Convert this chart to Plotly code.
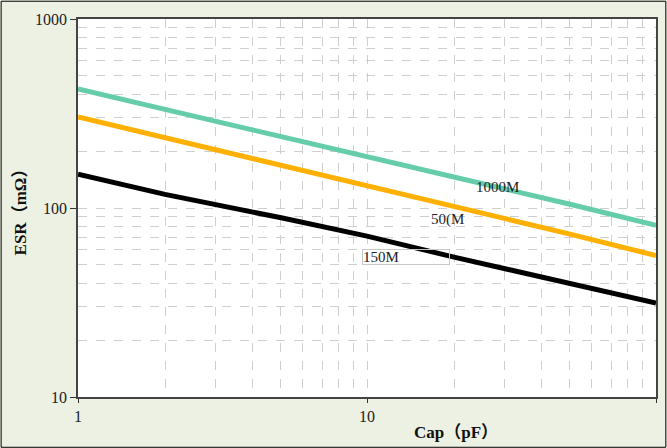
import plotly.graph_objects as go

cap = [1, 2, 5, 10, 20, 50, 100]
esr_1000m = [426, 333, 240, 188, 146, 105, 81]
esr_500m = [303, 236, 169, 131, 102, 73, 56]
esr_150m = [151, 118, 89, 71, 55, 40, 31.4]

series = [
    ("1000M", esr_1000m, "#66cdaa"),
    ("500M", esr_500m, "#ffb000"),
    ("150M", esr_150m, "#000000"),
]

fig = go.Figure()
for name, ys, col in series:
    fig.add_trace(go.Scatter(x=cap, y=ys, mode="lines", name=name,
                             line=dict(color=col, width=5)))

lab_font = dict(family="Liberation Serif", size=15, color="#222")
fig.add_annotation(x=1.45, y=2.111, xref="x", yref="y", text="1000M", showarrow=False, font=lab_font)
fig.add_annotation(x=1.277, y=1.937, xref="x", yref="y", text="50(M", showarrow=False, font=lab_font)
fig.add_annotation(x=1.135, y=1.741, xref="x", yref="y", text="150M", showarrow=False,
                   width=86, height=14, align="left", borderpad=0, bordercolor="#c8c8c8", borderwidth=1,
                   font=lab_font)

grid = "#cfcfcf"
tick_font = dict(family="Liberation Serif", size=16, color="#222")
title_font = dict(family="Liberation Serif, Noto Sans CJK SC", size=17, color="#111")

# x-axis title placed like the reference (right of centre)
fig.add_annotation(x=0.654, y=-0.093, xref="paper", yref="paper", text="<b>Cap（pF）</b>",
                   showarrow=False, xanchor="center", yanchor="middle", font=title_font)

fig.update_xaxes(type="log", range=[0, 2], automargin=False,
                 tickvals=[1, 10, 100], ticktext=["1", "10", "100"],
                 ticks="outside", ticklen=4, tickcolor="#333",
                 showline=True, linecolor="#444", linewidth=1.5, mirror=True,
                 showgrid=True, gridcolor=grid, griddash="dash", gridwidth=1,
                 minor=dict(showgrid=True, gridcolor=grid, griddash="dash", gridwidth=1,
                            tickvals=[2, 3, 4, 5, 6, 7, 8, 9, 20, 30, 40, 50, 60, 70, 80, 90]),
                 tickfont=tick_font,
                 zeroline=False)
fig.update_yaxes(type="log", range=[1, 3], automargin=False,
                 tickvals=[10, 100, 1000], ticktext=["10", "100", "1000"],
                 ticks="outside", ticklen=6, tickcolor="#333",
                 showline=True, linecolor="#444", linewidth=1.5, mirror=True,
                 showgrid=True, gridcolor=grid, griddash="dash", gridwidth=1,
                 minor=dict(showgrid=True, gridcolor=grid, griddash="dash", gridwidth=1,
                            tickvals=[20, 30, 40, 50, 60, 70, 80, 90, 200, 300, 400, 500, 600, 700, 800, 900]),
                 tickfont=tick_font,
                 title=dict(text="<b>ESR（mΩ）</b>", standoff=4, font=title_font),
                 zeroline=False)

fig.update_layout(
    width=667, height=448,
    margin=dict(l=78, r=11, t=19, b=51),
    paper_bgcolor="#ecf1e3", plot_bgcolor="#ffffff",
    showlegend=False,
    shapes=[dict(type="rect", xref="paper", yref="paper", x0=-0.133, x1=1.017, y0=-0.133, y1=1.047,
                 line=dict(color="#000", width=1))],
)

fig.write_html("out.html", config={"displayModeBar": False},
               post_script="document.body.style.margin='0';document.body.style.overflow='hidden';")
